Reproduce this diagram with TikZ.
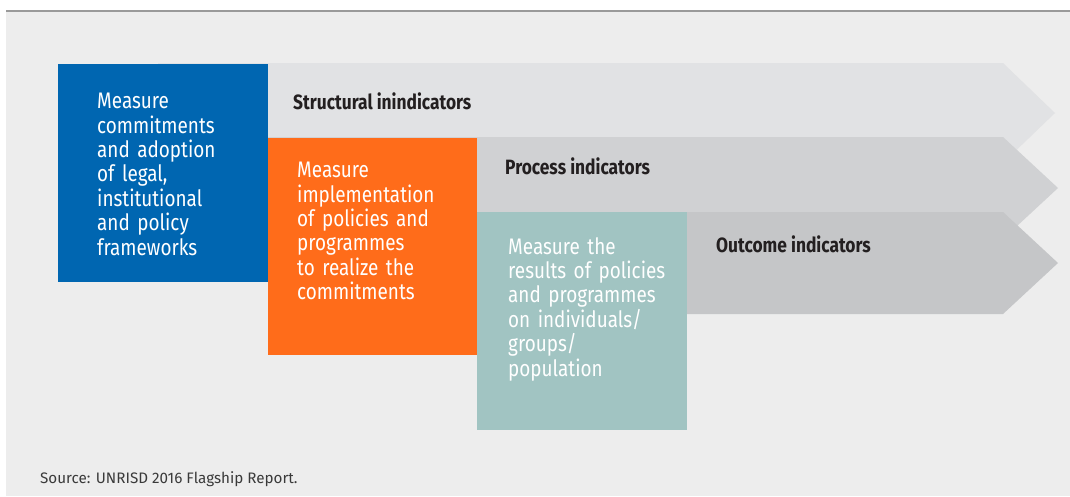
\documentclass[tikz,border=0pt]{standalone}
\usepackage{fontspec}
\setmainfont{Fira Sans}[FakeStretch=0.84]
\newfontfamily\sourcefont{Fira Sans}
\usetikzlibrary{positioning}

\definecolor{panelgray}{HTML}{EDEDED}
\definecolor{rulegray}{HTML}{9A9A9A}
\definecolor{structgray}{HTML}{E1E2E4}
\definecolor{processgray}{HTML}{D0D1D3}
\definecolor{outcomegray}{HTML}{C5C6C8}
\definecolor{unblue}{HTML}{0066B1}
\definecolor{unorange}{HTML}{FF6C1A}
\definecolor{unteal}{HTML}{A1C4C2}
\definecolor{labelblack}{HTML}{231F20}
\definecolor{sourcegray}{HTML}{3A3A3A}

\begin{document}
\begin{tikzpicture}[
      x=1pt, y=-1pt,
      box/.style={rectangle, inner sep=0pt, minimum width=210pt, minimum height=218pt, anchor=north west},
      boxtext/.style={anchor=north west, inner sep=0pt, text width=200pt, align=left, text=white,
        font=\fontsize{22.5}{24.4}\selectfont},
      heading/.style={anchor=north west, inner sep=0pt, text=labelblack,
        font=\bfseries\fontsize{20.7}{24}\selectfont},
    ]
    \useasboundingbox (0,0) rectangle (1070,496);
    % panel and rule
    \fill[panelgray] (6,12) rectangle (1070,496);
    \draw[rulegray, line width=1.5pt] (6,11) -- (1070,11);

    % the three indicator arrows
    \fill[structgray] (158,63) -- (1003,63) -- (1055,113) -- (1003,163) -- (158,163) -- cycle;
    \fill[processgray] (268,137) -- (1003,137) -- (1058,188) -- (1003,239) -- (268,239) -- cycle;
    \fill[outcomegray] (477,212) -- (1003,212) -- (1058,263) -- (1003,314) -- (477,314) -- cycle;

    \node[heading] (structural) at (293,93) {Structural inindicators};
    \node[heading] (process) at (505,158) {Process indicators};
    \node[heading] (outcome) at (716,236) {Outcome indicators};

    % coloured boxes
    \node[box, fill=unblue] (commit) at (58,64) {};
    \node[box, fill=unorange, minimum width=209pt, minimum height=217pt] (implement) at (268,138) {};
    \node[box, fill=unteal] (results) at (477,212) {};

    \node[boxtext] (committext) at (97,93)
      {Measure\\commitments\\and adoption\\of legal,\\institutional\\and policy\\frameworks};
    \node[boxtext] (implementtext) at (297,162)
      {Measure\\implementation\\of policies and\\programmes\\to realize the\\commitments};
    \node[boxtext] (resultstext) at (508,237)
      {Measure the\\results of policies\\and programmes\\on individuals/\\groups/\\population};

    \node[anchor=north west, inner sep=0pt, text=sourcegray, font=\sourcefont\fontsize{15.2}{18}\selectfont]
      (source) at (40,471) {Source: UNRISD 2016 Flagship Report.};
\end{tikzpicture}
\end{document}
